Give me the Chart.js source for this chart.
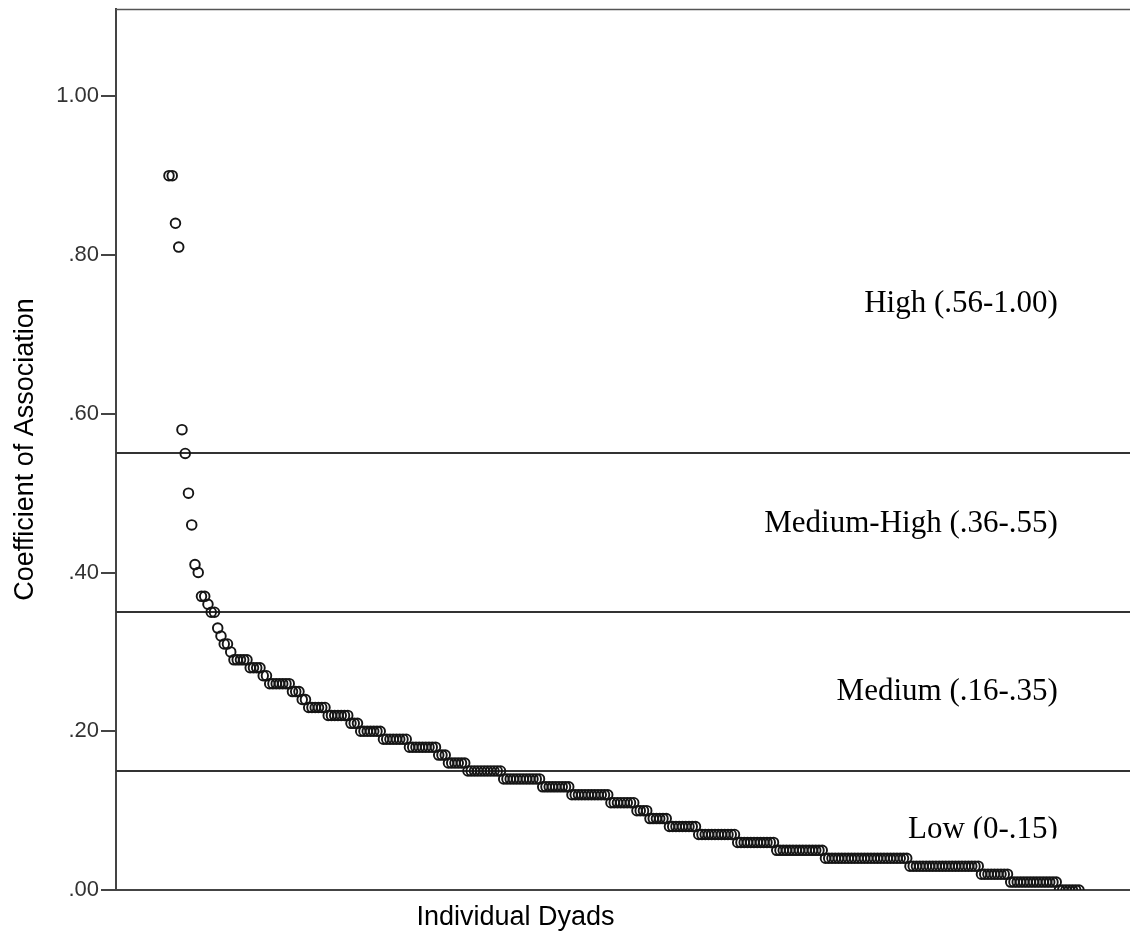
<!DOCTYPE html>
<html lang="en">
<head>
  <meta charset="UTF-8" />
  <title>Coefficient of Association by Dyad</title>
  <script src="https://cdn.jsdelivr.net/npm/chart.js"></script>
  <style>
    html, body { margin: 0; padding: 0; background: #fff; }
    canvas { display: block; }
  </style>
</head>
<body>
  <canvas id="dyadChart" width="1130" height="937"></canvas>

  <script>
    // Association values (sorted high to low) and how many dyads share each value
    const coefValues = [
      0.90, 0.84, 0.81, 0.58, 0.55, 0.50, 0.46, 0.41, 0.40, 0.37,
      0.36, 0.35, 0.33, 0.32, 0.31, 0.30, 0.29, 0.28, 0.27, 0.26,
      0.25, 0.24, 0.23, 0.22, 0.21, 0.20, 0.19, 0.18, 0.17, 0.16,
      0.15, 0.14, 0.13, 0.12, 0.11, 0.10, 0.09, 0.08, 0.07, 0.06,
      0.05, 0.04, 0.03, 0.02, 0.01, 0.00
    ];
    const dyadCounts = [
      2, 1, 1, 1, 1, 1, 1, 1, 1, 2,
      1, 2, 1, 1, 2, 1, 5, 4, 2, 7,
      3, 2, 6, 7, 3, 7, 8, 9, 3, 6,
      11, 12, 9, 12, 8, 4, 6, 9, 12, 12,
      15, 26, 22, 9, 15, 7
    ];

    const yTicks = [0, 0.2, 0.4, 0.6, 0.8, 1.0];

    // Category cut-offs and their labels
    const bandCuts = [0.15, 0.35, 0.55];
    const bandLabels = ['High (.56-1.00)', 'Medium-High (.36-.55)', 'Medium (.16-.35)', 'Low (0-.15)'];
    const bandLabelY = [0.728, 0.451, 0.239, 0.066];

    // one point per dyad, numbered in rank order
    const points = [];
    let idx = 1;
    coefValues.forEach((v, i) => {
      for (let k = 0; k < dyadCounts[i]; k++) {
        points.push({ x: idx, y: v });
        idx++;
      }
    });

    const fmtTick = v => {
      const s = v.toFixed(2);
      return s.startsWith('0') ? s.slice(1) : s;
    };

    const bandsPlugin = {
      id: 'bands',
      beforeDatasetsDraw(chart) {
        const { ctx, chartArea: a, scales: { y } } = chart;
        ctx.save();
        // top frame line
        ctx.strokeStyle = '#555';
        ctx.lineWidth = 1.5;
        ctx.beginPath();
        ctx.moveTo(a.left, a.top + 0.5);
        ctx.lineTo(a.right, a.top + 0.5);
        ctx.stroke();
        // cut-off lines
        ctx.strokeStyle = '#333';
        ctx.lineWidth = 2;
        bandCuts.forEach(c => {
          const py = Math.round(y.getPixelForValue(c));
          ctx.beginPath();
          ctx.moveTo(a.left, py);
          ctx.lineTo(a.right, py);
          ctx.stroke();
        });
        ctx.restore();
      },
      afterDatasetsDraw(chart) {
        const { ctx, chartArea: a, scales: { x, y } } = chart;
        ctx.save();
        ctx.font = '31px "Liberation Serif", "Times New Roman", serif';
        ctx.fillStyle = '#000';
        ctx.textAlign = 'right';
        ctx.textBaseline = 'alphabetic';
        const rx = x.getPixelForValue(274.5);
        bandLabels.forEach((t, i) => {
          const by = y.getPixelForValue(bandLabelY[i]);
          ctx.save();
          // the lowest label box is cut at its baseline
          if (i === bandLabels.length - 1) {
            ctx.beginPath();
            ctx.rect(a.left, a.top, a.right - a.left, by + 1 - a.top);
            ctx.clip();
          }
          ctx.fillText(t, rx, by);
          ctx.restore();
        });

        // x axis title
        ctx.font = '27px "Liberation Sans", Arial, sans-serif';
        ctx.textAlign = 'center';
        ctx.textBaseline = 'middle';
        ctx.fillStyle = '#000';
        ctx.fillText('Individual Dyads', a.left + (a.right - a.left) * 0.394, chart.height - 19);
        ctx.restore();
      }
    };

    new Chart(document.getElementById('dyadChart'), {
      type: 'scatter',
      data: {
        datasets: [{
          label: 'Coefficient of Association',
          data: points,
          pointStyle: 'circle',
          pointRadius: 4.8,
          pointHoverRadius: 4.8,
          borderWidth: 1.9,
          borderColor: '#151515',
          backgroundColor: 'rgba(0,0,0,0)'
        }]
      },
      options: {
        responsive: false,
        animation: false,
        devicePixelRatio: 1,
        layout: { autoPadding: false, padding: { top: 9, right: 0, left: 0, bottom: 0 } },
        plugins: {
          legend: { display: false },
          tooltip: { enabled: false }
        },
        scales: {
          x: {
            type: 'linear',
            min: -15.3,
            max: 296.7,
            ticks: { display: false },
            grid: { display: false },
            border: { display: true, color: '#444', width: 2 },
            afterFit(scale) {
              scale.height = 47;
              scale.paddingLeft = 0;
              scale.paddingRight = 0;
            }
          },
          y: {
            min: 0,
            max: 1.11,
            afterBuildTicks(scale) {
              scale.ticks = yTicks.map(v => ({ value: v }));
            },
            ticks: {
              padding: 2,
              color: '#333',
              font: { family: '"Liberation Sans", Arial, sans-serif', size: 22 },
              callback: v => fmtTick(v)
            },
            grid: {
              drawOnChartArea: false,
              drawTicks: true,
              tickLength: 15,
              tickColor: '#444',
              lineWidth: 2
            },
            border: { display: true, color: '#444', width: 2 },
            title: {
              display: true,
              text: 'Coefficient of Association',
              color: '#000',
              font: { family: '"Liberation Sans", Arial, sans-serif', size: 27 },
              padding: { top: 9, bottom: 0 }
            },
            afterFit(scale) {
              scale.width = 116;
              scale.paddingTop = 0;
              scale.paddingBottom = 0;
            }
          }
        }
      },
      plugins: [bandsPlugin]
    });
  </script>
</body>
</html>
